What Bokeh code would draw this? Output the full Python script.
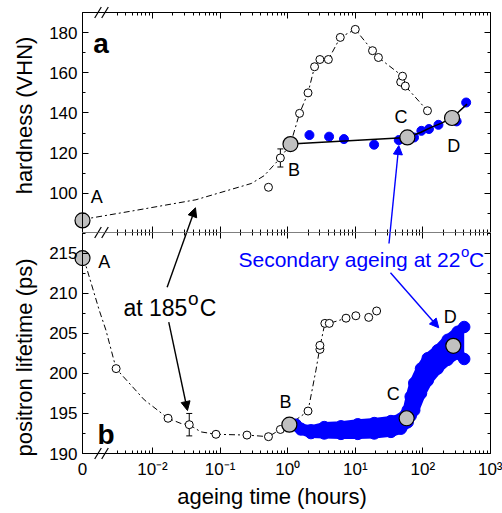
import numpy as np
from bokeh.plotting import figure
from bokeh.layouts import column
from bokeh.models import (LinearAxis, FixedTicker, SingleIntervalTicker, Range1d,
                          CustomJSTickFormatter, Whisker, TeeHead, Arrow, NormalHead,
                          ColumnDataSource)
from bokeh.core.properties import value
from bokeh.embed import file_html
from bokeh.resources import INLINE

# ---------------- data (ageing time in hours; 0 = as-quenched) ----------------
# (a) hardness, ageing at 185 C (open circles)
hard185_t = [0.52, 0.78, 1.5, 2.0, 2.5, 3.0, 4.0, 6.0, 10, 18, 22, 47, 50, 55, 117]
hard185_h = [103.0, 117.6, 139.8, 150.0, 163.0, 166.6, 166.6, 177.6, 181.6, 171.0,
             167.6, 155.4, 158.3, 153.4, 141.1]
hard185_err_t = [0.78]
hard185_err_h = [117.6]
hard185_err = [4.5]
hard185_fit_t = [0, 0.00123, 0.0054, 0.044, 0.29, 0.45, 0.78, 1.1, 1.5, 2.0, 2.5,
                 3.0, 4.0, 6.0, 10, 18, 22, 50, 55, 117]
hard185_fit_h = [86.5, 87.7, 91.4, 96.8, 104.9, 108.8, 117.6, 124.5, 139.8, 150.0,
                 163.0, 166.6, 166.6, 177.6, 181.6, 171.0, 167.6, 158.3, 153.4, 141.1]
# (a) secondary ageing at 22 C (blue)
hard22_t = [2.1, 4.1, 6.8, 19, 44, 74, 95, 123, 170, 316, 437]
hard22_h = [129.0, 128.2, 127.0, 124.2, 126.5, 127.8, 131.1, 132.0, 134.1, 135.8, 145.2]
hard22_fit_t = [1.1, 59, 94, 132, 185, 270, 450]
hard22_fit_h = [124.5, 127.8, 130.4, 132.8, 134.8, 137.5, 144.4]
# key states A-D
key_labels = ["A", "B", "C", "D"]
hard_key_t = [0, 1.1, 59, 270]
hard_key_h = [86.5, 124.5, 127.8, 137.5]

# (b) positron lifetime, ageing at 185 C
life185_t = [0.0029, 0.017, 0.035, 0.087, 0.25, 0.52, 0.78, 2.0, 3.0, 3.0, 3.55,
             4.13, 7.3, 10.2, 15.8, 20.7]
life185_L = [200.6, 194.4, 193.6, 192.4, 192.3, 192.1, 193.0, 195.3, 203.0, 203.5,
             206.25, 206.25, 206.9, 207.2, 207.0, 207.8]
life185_err_t = [0.035]
life185_err_L = [193.6]
life185_err = [1.4]
life185_fit_t = [0, 0.00105, 0.00163, 0.00205, 0.0029, 0.00757, 0.017, 0.0264, 0.035,
                 0.052, 0.087, 0.25, 0.52, 0.78, 1.06, 2.0, 2.62, 3.0, 3.55, 4.13, 7.3]
life185_fit_L = [214.4, 213.3, 207.9, 205.4, 200.6, 196.7, 194.4, 193.75, 193.6,
                 192.7, 192.4, 192.3, 192.1, 193.0, 193.6, 195.3, 200.4, 203.3,
                 206.25, 206.25, 206.9]
# (b) secondary ageing at 22 C: dense band of measurements (lower / upper edge)
life22_t = [1.32, 1.57, 2.21, 3.48, 6.14, 10.9, 19.1, 33.7, 47.4, 59.6, 66.0, 74.6,
            93.8, 118, 166, 233, 327, 409]
life22_lo = [193.5, 193.0, 192.55, 192.5, 192.45, 192.45, 192.5, 192.7, 193.1,
             193.9, 194.7, 195.4, 197.5, 199.1, 200.6, 201.7, 202.5, 201.8]
life22_hi = [193.6, 193.1, 192.9, 193.3, 193.4, 193.65, 193.8, 194.05, 194.35,
             195.4, 197.1, 198.8, 200.6, 201.9, 202.9, 204.2, 205.2, 205.8]
life_key_t = [0, 1.06, 57.5, 282]
life_key_L = [214.4, 193.6, 194.4, 203.45]

x_major_exp = [-2, -1, 0, 1, 2, 3]

# ---------------- geometry (page pixels: axis box 82..490 x, 12..453 y) ----------------
FONT = "Liberation Sans"
BLUE = "#0000ff"
GREY = "#c0c0c0"
W = 502                            # canvas width (px)
H_TOP, H_BOT = 232, 281            # canvas heights (px)
PX_DEC = 67.6                      # pixels per decade
X0, X1 = -3.035, 3.0               # axis position of "0" and right end of box
XS = X0 - 82 / PX_DEC              # canvas left edge
XE = XS + W / PX_DEC               # canvas right edge
TOP_BOX = (80.5, 190.0)
KT = 220 / (TOP_BOX[1] - TOP_BOX[0])
TOP_Y = (TOP_BOX[0], TOP_BOX[1] + 12 / KT)
BOT_BOX = (190.0, 217.6)
KB = 221 / (BOT_BOX[1] - BOT_BOX[0])
BOT_Y = (BOT_BOX[1] - H_BOT / KB, BOT_BOX[1])
TSHIFT = 7                         # baseline correction for text glyphs (px)


def px_x(px):
    return X0 + (px - 82) / PX_DEC


def lx(t):
    a = np.asarray(t, dtype=float)
    out = np.full(a.shape, X0)
    pos = a > 0
    out[pos] = np.log10(a[pos])
    return out


minor = [np.log10(k * 10.0 ** n) for n in range(-3, 3) for k in range(2, 10)
         if k * 10.0 ** n >= 0.003]
xticker = FixedTicker(ticks=[X0] + x_major_exp, minor_ticks=minor)
xfmt = CustomJSTickFormatter(code="""
if (tick < -2.5) { return "0"; }
var sup = {"-2": "\\u207b\\u00b2", "-1": "\\u207b\\u00b9", "0": "\\u2070",
           "1": "\\u00b9", "2": "\\u00b2", "3": "\\u00b3"};
return "10" + sup[String(Math.round(tick))];
""")
blank = CustomJSTickFormatter(code="return '';")


def style(ax, labels):
    ax.major_tick_in = 6
    ax.major_tick_out = 0
    ax.minor_tick_in = 3
    ax.minor_tick_out = 0
    ax.axis_line_color = "black"
    ax.major_tick_line_color = "black"
    ax.minor_tick_line_color = "black"
    ax.axis_line_width = 1
    if labels:
        ax.major_label_text_font = FONT
        ax.major_label_text_font_size = "17px"
        ax.major_label_text_color = "black"
    else:
        ax.major_label_text_font_size = "0px"
        ax.major_label_standoff = 0


def make_fig(yr, h):
    p = figure(frame_width=W, frame_height=h,
               x_range=Range1d(XS, XE), y_range=Range1d(*yr),
               output_backend="svg", toolbar_location=None,
               x_axis_location=None, y_axis_location=None,
               min_border_left=0, min_border_right=0,
               min_border_top=0, min_border_bottom=0,
               outline_line_color=None, background_fill_color="white",
               border_fill_color="white")
    p.xgrid.visible = False
    p.ygrid.visible = False
    return p


def add_axes(p, box, yticker, xlabels):
    left = LinearAxis(ticker=yticker, fixed_location=X0, bounds=box, major_label_standoff=5)
    style(left, True)
    p.add_layout(left, "left")
    right = LinearAxis(ticker=yticker, fixed_location=X1, bounds=box, formatter=blank)
    style(right, False)
    p.add_layout(right, "right")
    top = LinearAxis(ticker=xticker, fixed_location=box[1], bounds=(X0, X1), formatter=blank)
    style(top, False)
    p.add_layout(top, "above")
    if xlabels:
        bot = LinearAxis(ticker=xticker, fixed_location=box[0], bounds=(X0, X1),
                         formatter=xfmt, major_label_standoff=6)
        style(bot, True)
    else:
        bot = LinearAxis(ticker=xticker, fixed_location=box[0], bounds=(X0, X1), formatter=blank)
        style(bot, False)
    p.add_layout(bot, "below")


def breaks(p, yc, k):
    for xc in (97.5, 104.5):
        xm = px_x(xc)
        p.segment(x0=[xm - 3.3 / PX_DEC], y0=[yc - 5.5 / k],
                  x1=[xm + 3.3 / PX_DEC], y1=[yc + 5.5 / k],
                  line_color="black", line_width=1.2)


def txt(p, k, x, y, s, size, color="black", bold=False, align="center", rotated=False):
    x = np.asarray(x, dtype=float)
    y = np.asarray(y, dtype=float)
    if rotated:
        x = x - TSHIFT / PX_DEC
    else:
        y = y + TSHIFT / k
    p.text(x=x, y=y, text=s, text_font=value(FONT), text_font_size=value(size),
           text_color=color, text_align=align, text_baseline="alphabetic",
           text_font_style="bold" if bold else "normal",
           angle=np.pi / 2 if rotated else 0.0)


# ---------------- crossing arrows (bottom tail -> top head) ----------------
def cross_x(xt, Lt, xh, hh):
    yt = 220 + (BOT_BOX[1] - Lt) * KB
    yh = (TOP_BOX[1] - hh) * KT
    f = (yt - 220) / (yt - yh)
    return xt + f * (xh - xt)


arrows_cross = [  # (x_tail, L_tail, x_head, h_head, colour)
    (-1.783, 210.77, -1.364, 92.8, "black"),
    (1.499, 216.23, 1.644, 123.8, BLUE),
]

# ================= panel (a) =================
p1 = make_fig(TOP_Y, H_TOP)
add_axes(p1, TOP_BOX, SingleIntervalTicker(interval=20, num_minor_ticks=2), False)
txt(p1, KT, [px_x(31)], [190 - (115 - 12) / KT], ["hardness (VHN)"], "22px", rotated=True)
p1.line(lx(hard185_fit_t), hard185_fit_h, line_color="black", line_width=1,
        line_dash="6 3 2 3")
p1.add_layout(Whisker(source=ColumnDataSource(dict(
    x=lx(hard185_err_t), lo=np.array(hard185_err_h) - np.array(hard185_err),
    hi=np.array(hard185_err_h) + np.array(hard185_err))),
    base="x", lower="lo", upper="hi", dimension="height", level="underlay",
    line_color="black", line_width=1,
    upper_head=TeeHead(size=6, line_color="black", line_width=1),
    lower_head=TeeHead(size=6, line_color="black", line_width=1)))
p1.scatter(lx(hard185_t), hard185_h, size=8, fill_color="white", line_color="black",
           line_width=1)
p1.scatter(lx(hard22_t), hard22_h, size=9, fill_color=BLUE, line_color=BLUE)
p1.line(lx(hard22_fit_t), hard22_fit_h, line_color="black", line_width=1.5)
p1.scatter(lx(hard_key_t), hard_key_h, size=15, fill_color=GREY, line_color="black",
           line_width=1.2)
txt(p1, KT, [-2.824, 0.093, 1.676, 2.456], [94.7, 107.9, 134.5, 119.85], key_labels, "18px")
txt(p1, KT, [-2.762], [171.3], ["a"], "28px", bold=True)
breaks(p1, TOP_BOX[1], KT)
breaks(p1, TOP_BOX[0], KT)
for xt, Lt, xh, hh, col in arrows_cross:
    xc = cross_x(xt, Lt, xh, hh)
    p1.add_layout(Arrow(x_start=xc, y_start=TOP_BOX[0], x_end=xh, y_end=hh,
                        line_color=col, line_width=1.4,
                        end=NormalHead(size=9, fill_color=col, line_color=col)))

# ================= panel (b) =================
p2 = make_fig(BOT_Y, H_BOT)
add_axes(p2, BOT_BOX, SingleIntervalTicker(interval=5, num_minor_ticks=2), True)
txt(p2, KB, [px_x(31)], [BOT_BOX[1] - (357 - 232) / KB], ["positron lifetime (ps)"], "22px",
    rotated=True)
txt(p2, KB, [px_x(271.5)], [BOT_BOX[0] - (503 - 453) / KB], ["ageing time (hours)"], "22px")
p2.line(lx(life185_fit_t), life185_fit_L, line_color="black", line_width=1,
        line_dash="6 3 2 3")
p2.add_layout(Whisker(source=ColumnDataSource(dict(
    x=lx(life185_err_t), lo=np.array(life185_err_L) - np.array(life185_err),
    hi=np.array(life185_err_L) + np.array(life185_err))),
    base="x", lower="lo", upper="hi", dimension="height", level="underlay",
    line_color="black", line_width=1,
    upper_head=TeeHead(size=6, line_color="black", line_width=1),
    lower_head=TeeHead(size=6, line_color="black", line_width=1)))
p2.scatter(lx(life185_t), life185_L, size=8, fill_color="white", line_color="black",
           line_width=1)
bx = lx(life22_t)
p2.varea(x=bx, y1=life22_lo, y2=life22_hi, fill_color=BLUE)
p2.line(bx, life22_lo, line_color=BLUE, line_width=10, line_join="round", line_cap="round")
p2.line(bx, life22_hi, line_color=BLUE, line_width=10, line_join="round", line_cap="round")
p2.scatter(bx, life22_lo, size=11.5, fill_color=BLUE, line_color=BLUE)
p2.scatter(bx, life22_hi, size=11.5, fill_color=BLUE, line_color=BLUE)
p2.scatter(lx(life_key_t), life_key_L, size=15, fill_color=GREY, line_color="black",
           line_width=1.2)
txt(p2, KB, [-2.713, -0.033, 1.561, 2.405], [213.1, 195.5, 196.5, 206.2], key_labels, "18px")
txt(p2, KB, [-2.688], [191.45], ["b"], "28px", bold=True)
# "at 185 oC"
txt(p2, KB, [-2.429], [207.3], ["at 185"], "23px", align="left")
txt(p2, KB, [-1.475], [207.3 + 9 / KB], ["o"], "19px", align="left")
txt(p2, KB, [-1.302], [207.3], ["C"], "23px", align="left")
# "Secondary ageing at 22 oC"
txt(p2, KB, [px_x(238)], [213.3], ["Secondary ageing at 22"], "21px", color=BLUE, align="left")
txt(p2, KB, [px_x(460.5)], [213.3 + 8.4 / KB], ["o"], "15px", color=BLUE, align="left")
txt(p2, KB, [px_x(468.5)], [213.3], ["C"], "21px", color=BLUE, align="left")
breaks(p2, BOT_BOX[1], KB)
breaks(p2, BOT_BOX[0], KB)
for xt, Lt, xh, hh, col in arrows_cross:
    xc = cross_x(xt, Lt, xh, hh)
    p2.segment(x0=[xt], y0=[Lt], x1=[xc], y1=[BOT_BOX[1]], line_color=col, line_width=1.4)
p2.add_layout(Arrow(x_start=-1.759, y_start=206.4, x_end=-1.482, y_end=195.37,
                    line_color="black", line_width=1.4,
                    end=NormalHead(size=9, fill_color="black", line_color="black")))
p2.add_layout(Arrow(x_start=1.521, y_start=212.57, x_end=2.235, y_end=205.7,
                    line_color=BLUE, line_width=1.4,
                    end=NormalHead(size=9, fill_color=BLUE, line_color=BLUE)))

layout = column(p1, p2, spacing=0)
open("out.html", "w").write(file_html(layout, INLINE))
